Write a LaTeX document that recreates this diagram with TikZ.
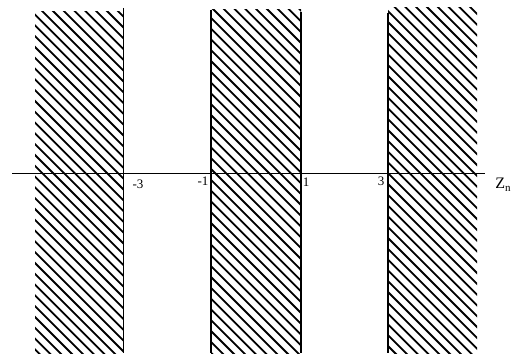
\documentclass[tikz,border=0pt]{standalone}
\usepackage{fontspec}
\setmainfont{Liberation Serif}
\usetikzlibrary{positioning}

\begin{document}
\begin{tikzpicture}[
		x=1pt, y=-1pt,
		edge/.style={line width=1.5pt},
		hatch/.style={line width=1.8pt},
		lbl/.style={inner sep=0pt, font=\fontsize{13}{14}\selectfont}
	]
	\useasboundingbox (0,0) rectangle (524,355);

	% Hatched bands
	\foreach \xa/\xb/\ya/\yb in {35/123/12/353, 211/301/10/353, 388/477/8/353}{
		\begin{scope}
			\clip (\xa,\ya) rectangle (\xb,\yb);
			\foreach \c in {-336,-325.2,...,480}
				\draw[hatch] (\c,0) -- ++(360,360);
		\end{scope}
	}

	% Band edges
	\draw[edge] (123.5,8) -- (123.5,353);
	\draw[edge] (211,10) -- (211,353);
	\draw[edge] (301,12) -- (301,353);
	\draw[edge] (388,13) -- (388,353);

	% Axis
	\coordinate (L) at (12,174);
	\coordinate (R) at (485,174);
	\draw[line width=1pt] (L) -- (R);

	% Labels
	\node[lbl] (m3) at (138,184) {-3};
	\node[lbl] (m1) at (203,181) {-1};
	\node[lbl] (p1) at (306,182) {1};
	\node[lbl] (p3) at (381,181) {3};
	\node[lbl, font=\fontsize{16}{18}\selectfont] (zn) at (503,185) {Z\raisebox{-0.4ex}{\fontsize{11}{12}\selectfont n}};
\end{tikzpicture}
\end{document}
